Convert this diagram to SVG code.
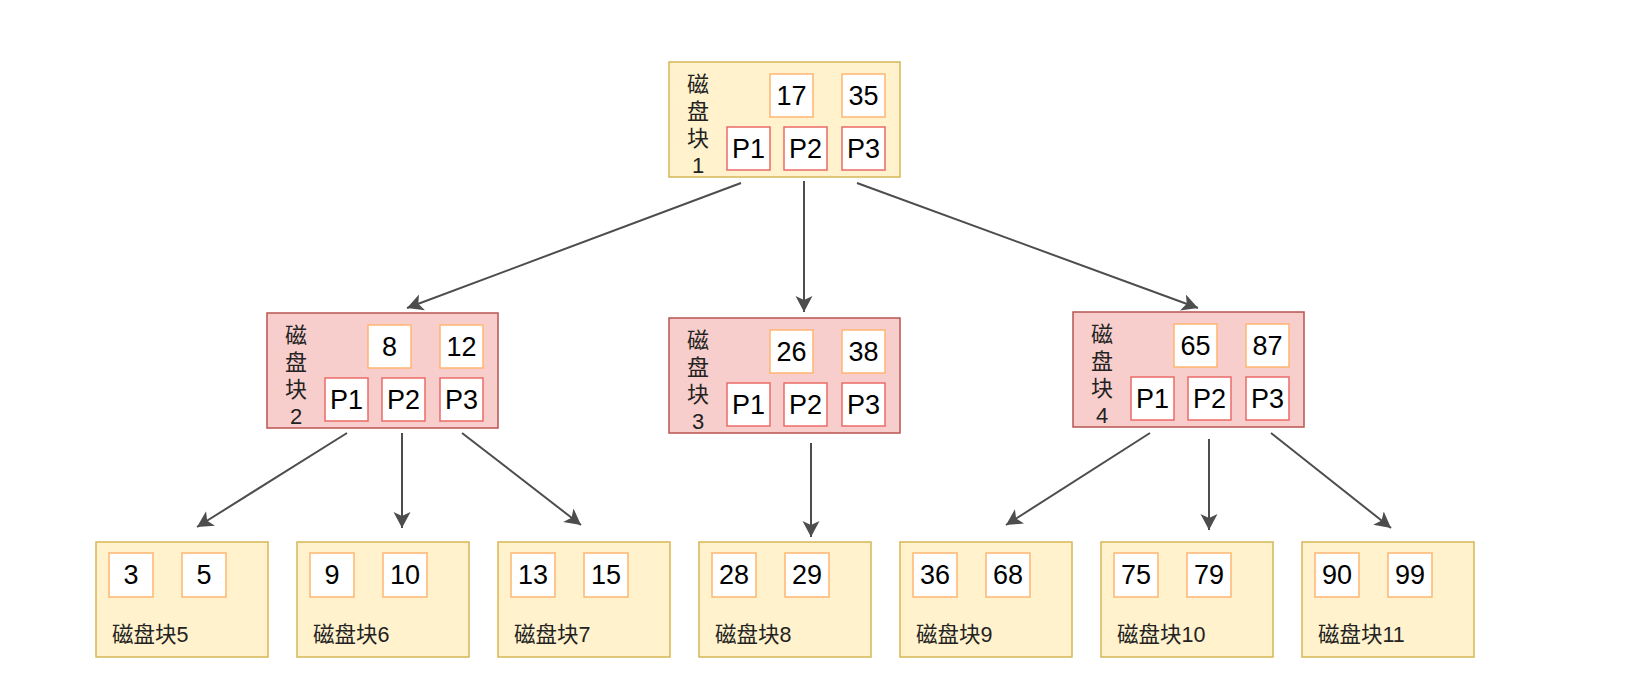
<svg xmlns="http://www.w3.org/2000/svg" width="1648" height="700" viewBox="0 0 1648 700">
<defs>
<style>
.y{fill:#FFF2CC;stroke:#D6B656;stroke-width:1.5}
.r{fill:#F8CECC;stroke:#B85450;stroke-width:1.5}
.k{fill:#FFFFFF;stroke:#FFB570;stroke-width:1.5}
.p{fill:#FFFFFF;stroke:#EA6B66;stroke-width:1.5}
.n{font-family:"Liberation Sans",Arial,sans-serif;font-size:27px;fill:#000;text-anchor:middle}
.v{font-family:"Liberation Sans","Noto Sans CJK SC",sans-serif;font-size:22px;fill:#222;text-anchor:middle}
.l{font-family:"Liberation Sans","Noto Sans CJK SC",sans-serif;font-size:21.5px;fill:#222}
.c{stroke:#4D4D4D;stroke-width:2;fill:none;marker-end:url(#ah)}
</style>
<marker id="ah" markerUnits="userSpaceOnUse" markerWidth="20" markerHeight="20" refX="16" refY="8.5" orient="auto">
<path d="M0,0 L16,8.5 L0,17 L4,8.5 Z" fill="#4D4D4D"/>
</marker>
</defs>
<rect width="1648" height="700" fill="#FFFFFF"/>

<g id="connectors">
<line class="c" x1="741" y1="183" x2="407" y2="308"/>
<line class="c" x1="804" y1="181" x2="804" y2="312"/>
<line class="c" x1="857" y1="183" x2="1198" y2="308"/>
<line class="c" x1="347" y1="433" x2="197" y2="527"/>
<line class="c" x1="402" y1="433" x2="402" y2="528"/>
<line class="c" x1="462" y1="433" x2="581" y2="525"/>
<line class="c" x1="811" y1="443" x2="811" y2="537"/>
<line class="c" x1="1150" y1="433" x2="1006" y2="525"/>
<line class="c" x1="1209" y1="439" x2="1209" y2="530"/>
<line class="c" x1="1271" y1="433" x2="1391" y2="528"/>
</g>

<g id="block1">
<rect class="y" x="669" y="62" width="231" height="115"/>
<text class="v" x="698" y="92">磁</text><text class="v" x="698" y="119">盘</text><text class="v" x="698" y="146">块</text><text class="v" x="698" y="173">1</text>
<rect class="k" x="770" y="74" width="43" height="43"/><text class="n" x="791.5" y="105">17</text>
<rect class="k" x="842" y="74" width="43" height="43"/><text class="n" x="863.5" y="105">35</text>
<rect class="p" x="727" y="127" width="43" height="43"/><text class="n" x="748.5" y="158">P1</text>
<rect class="p" x="784" y="127" width="43" height="43"/><text class="n" x="805.5" y="158">P2</text>
<rect class="p" x="842" y="127" width="43" height="43"/><text class="n" x="863.5" y="158">P3</text>
</g>

<g id="block2">
<rect class="r" x="267" y="313" width="231" height="115"/>
<text class="v" x="296" y="343">磁</text><text class="v" x="296" y="370">盘</text><text class="v" x="296" y="397">块</text><text class="v" x="296" y="424">2</text>
<rect class="k" x="368" y="325" width="43" height="43"/><text class="n" x="389.5" y="356">8</text>
<rect class="k" x="440" y="325" width="43" height="43"/><text class="n" x="461.5" y="356">12</text>
<rect class="p" x="325" y="378" width="43" height="43"/><text class="n" x="346.5" y="409">P1</text>
<rect class="p" x="382" y="378" width="43" height="43"/><text class="n" x="403.5" y="409">P2</text>
<rect class="p" x="440" y="378" width="43" height="43"/><text class="n" x="461.5" y="409">P3</text>
</g>

<g id="block3">
<rect class="r" x="669" y="318" width="231" height="115"/>
<text class="v" x="698" y="348">磁</text><text class="v" x="698" y="375">盘</text><text class="v" x="698" y="402">块</text><text class="v" x="698" y="429">3</text>
<rect class="k" x="770" y="330" width="43" height="43"/><text class="n" x="791.5" y="361">26</text>
<rect class="k" x="842" y="330" width="43" height="43"/><text class="n" x="863.5" y="361">38</text>
<rect class="p" x="727" y="383" width="43" height="43"/><text class="n" x="748.5" y="414">P1</text>
<rect class="p" x="784" y="383" width="43" height="43"/><text class="n" x="805.5" y="414">P2</text>
<rect class="p" x="842" y="383" width="43" height="43"/><text class="n" x="863.5" y="414">P3</text>
</g>

<g id="block4">
<rect class="r" x="1073" y="312" width="231" height="115"/>
<text class="v" x="1102" y="342">磁</text><text class="v" x="1102" y="369">盘</text><text class="v" x="1102" y="396">块</text><text class="v" x="1102" y="423">4</text>
<rect class="k" x="1174" y="324" width="43" height="43"/><text class="n" x="1195.5" y="355">65</text>
<rect class="k" x="1246" y="324" width="43" height="43"/><text class="n" x="1267.5" y="355">87</text>
<rect class="p" x="1131" y="377" width="43" height="43"/><text class="n" x="1152.5" y="408">P1</text>
<rect class="p" x="1188" y="377" width="43" height="43"/><text class="n" x="1209.5" y="408">P2</text>
<rect class="p" x="1246" y="377" width="43" height="43"/><text class="n" x="1267.5" y="408">P3</text>
</g>

<g id="block5">
<rect class="y" x="96" y="542" width="172" height="115"/>
<rect class="k" x="109" y="553" width="44" height="44"/><text class="n" x="131" y="584">3</text>
<rect class="k" x="182" y="553" width="44" height="44"/><text class="n" x="204" y="584">5</text>
<text class="l" x="112" y="642">磁盘块5</text>
</g>
<g id="block6">
<rect class="y" x="297" y="542" width="172" height="115"/>
<rect class="k" x="310" y="553" width="44" height="44"/><text class="n" x="332" y="584">9</text>
<rect class="k" x="383" y="553" width="44" height="44"/><text class="n" x="405" y="584">10</text>
<text class="l" x="313" y="642">磁盘块6</text>
</g>
<g id="block7">
<rect class="y" x="498" y="542" width="172" height="115"/>
<rect class="k" x="511" y="553" width="44" height="44"/><text class="n" x="533" y="584">13</text>
<rect class="k" x="584" y="553" width="44" height="44"/><text class="n" x="606" y="584">15</text>
<text class="l" x="514" y="642">磁盘块7</text>
</g>
<g id="block8">
<rect class="y" x="699" y="542" width="172" height="115"/>
<rect class="k" x="712" y="553" width="44" height="44"/><text class="n" x="734" y="584">28</text>
<rect class="k" x="785" y="553" width="44" height="44"/><text class="n" x="807" y="584">29</text>
<text class="l" x="715" y="642">磁盘块8</text>
</g>
<g id="block9">
<rect class="y" x="900" y="542" width="172" height="115"/>
<rect class="k" x="913" y="553" width="44" height="44"/><text class="n" x="935" y="584">36</text>
<rect class="k" x="986" y="553" width="44" height="44"/><text class="n" x="1008" y="584">68</text>
<text class="l" x="916" y="642">磁盘块9</text>
</g>
<g id="block10">
<rect class="y" x="1101" y="542" width="172" height="115"/>
<rect class="k" x="1114" y="553" width="44" height="44"/><text class="n" x="1136" y="584">75</text>
<rect class="k" x="1187" y="553" width="44" height="44"/><text class="n" x="1209" y="584">79</text>
<text class="l" x="1117" y="642">磁盘块10</text>
</g>
<g id="block11">
<rect class="y" x="1302" y="542" width="172" height="115"/>
<rect class="k" x="1315" y="553" width="44" height="44"/><text class="n" x="1337" y="584">90</text>
<rect class="k" x="1388" y="553" width="44" height="44"/><text class="n" x="1410" y="584">99</text>
<text class="l" x="1318" y="642">磁盘块11</text>
</g>
</svg>
